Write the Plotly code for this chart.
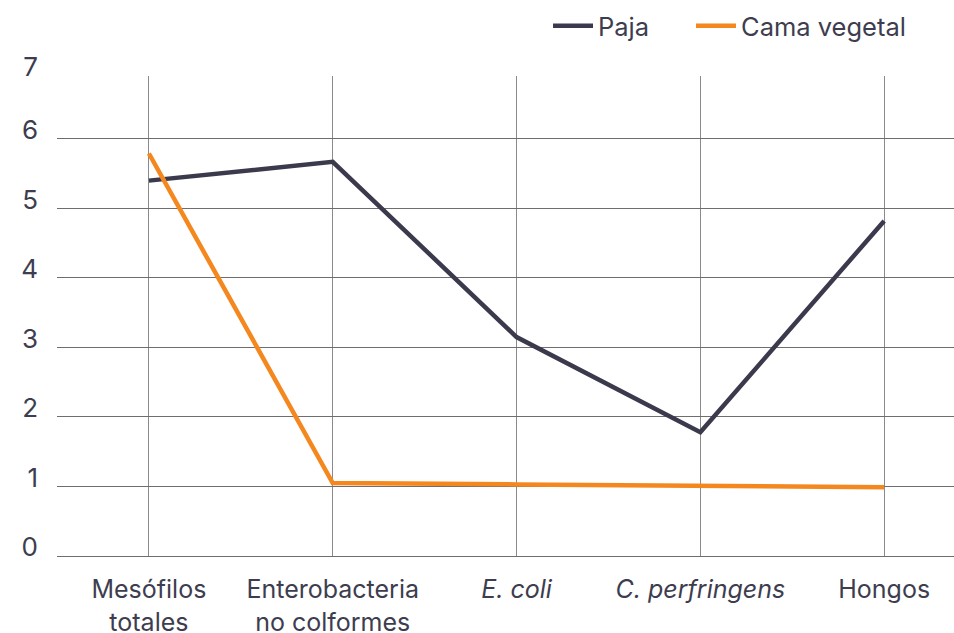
import plotly.graph_objects as go

categories = ["Mesófilos<br>totales", "Enterobacteria<br>no colformes", "<i>E. coli</i>", "<i>C. perfringens</i>", "Hongos"]
paja = [5.40, 5.67, 3.15, 1.78, 4.82]
cama_vegetal = [5.79, 1.05, 1.03, 1.01, 0.99]
y_tickvals = [0, 1, 2, 3, 4, 5, 6, 6.9]
y_ticktext = ["0", "1", "2", "3", "4", "5", "6", "7"]

text_color = "#3d3d4f"
font_family = "Inter, 'Open Sans', 'Noto Sans', sans-serif"

x_idx = list(range(len(categories)))

fig = go.Figure()
fig.add_trace(go.Scatter(x=x_idx, y=paja, mode="lines", name="Paja", legend="legend",
                         line=dict(color="#3b3a4d", width=4.5)))
fig.add_trace(go.Scatter(x=x_idx, y=cama_vegetal, mode="lines", name="Cama vegetal", legend="legend2",
                         line=dict(color="#f5871f", width=4.5)))

legend_style = dict(orientation="h", xanchor="left", y=1.104, yanchor="middle",
                    font=dict(size=25.5, color=text_color), itemwidth=40,
                    bgcolor="rgba(0,0,0,0)")

fig.update_layout(
    width=954, height=633,
    margin=dict(l=57, r=0, t=76, b=77, autoexpand=False),
    paper_bgcolor="white", plot_bgcolor="white",
    font=dict(family=font_family, color=text_color),
    showlegend=True,
    legend=dict(x=0.5474, **legend_style),
    legend2=dict(x=0.7068, **legend_style),
)
fig.update_xaxes(
    range=[-0.5, 4.38], automargin=False,
    tickmode="array", tickvals=x_idx, ticktext=categories,
    showgrid=True, gridcolor="#8a8a8a", gridwidth=1,
    zeroline=False, showline=False, ticks="",
    tickfont=dict(size=25, color=text_color),
    ticklabelstandoff=16,
)
fig.update_yaxes(
    range=[0, 6.905], automargin=False,
    tickmode="array", tickvals=y_tickvals, ticktext=y_ticktext,
    showgrid=True, gridcolor="#6e6e6e", gridwidth=1,
    zeroline=True, zerolinecolor="#6e6e6e", zerolinewidth=1,
    showline=False, ticks="",
    tickfont=dict(size=26, color=text_color),
    ticklabelstandoff=18, ticklabelshift=-9,
)

fig.write_html(
    "out.html",
    config={"displayModeBar": False},
    post_script="document.body.style.margin='0';document.body.style.overflow='hidden';",
)
